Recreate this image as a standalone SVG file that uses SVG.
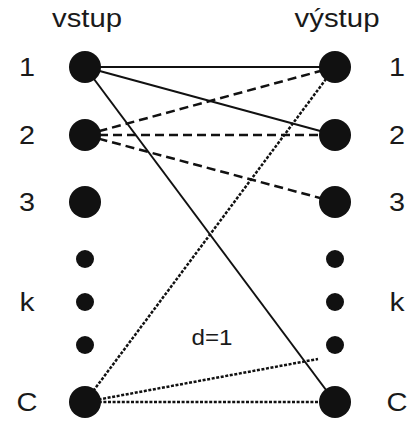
<svg xmlns="http://www.w3.org/2000/svg" width="409" height="421" viewBox="0 0 409 421">
<style>
text{font-family:"Liberation Sans",Arial,sans-serif;fill:#1a1a1a}
.lbl{font-size:25px;text-anchor:middle}
.big{fill:#111}
.solid{stroke:#111;stroke-width:2;fill:none}
.dash{stroke:#111;stroke-width:2.5;fill:none;stroke-dasharray:9 5}
.dot{stroke:#111;stroke-width:2.5;fill:none;stroke-dasharray:3 1.6}
</style>
<rect width="409" height="421" fill="#fff"/>
<g id="headers">
<text x="87" y="27" class="lbl" textLength="70" lengthAdjust="spacingAndGlyphs">vstup</text>
<text x="337" y="27" class="lbl" textLength="85" lengthAdjust="spacingAndGlyphs">výstup</text>
</g>
<g id="connectors">
<line class="solid" x1="85" y1="67" x2="335" y2="67"/>
<line class="solid" x1="85" y1="67" x2="335" y2="135"/>
<line class="solid" x1="85" y1="67" x2="335" y2="402"/>
<line class="dash" x1="85" y1="135" x2="335" y2="67"/>
<line class="dash" x1="85" y1="135" x2="335" y2="135"/>
<line class="dash" x1="85" y1="135" x2="335" y2="202"/>
<line class="dot" x1="85" y1="402" x2="335" y2="67"/>
<line class="dot" x1="85" y1="402" x2="318" y2="359"/>
<line class="dot" x1="85" y1="402" x2="335" y2="402"/>
</g>
<g id="in1"><circle class="big" cx="85" cy="67" r="16"/><text x="27" y="76" class="lbl" textLength="16" lengthAdjust="spacingAndGlyphs">1</text></g>
<g id="in2"><circle class="big" cx="85" cy="135" r="16"/><text x="27" y="144" class="lbl" textLength="16" lengthAdjust="spacingAndGlyphs">2</text></g>
<g id="in3"><circle class="big" cx="85" cy="202" r="16"/><text x="27" y="211" class="lbl" textLength="16" lengthAdjust="spacingAndGlyphs">3</text></g>
<g id="in-dot1"><circle class="big" cx="85" cy="259" r="9"/></g>
<g id="ink"><circle class="big" cx="85" cy="302" r="9"/><text x="27" y="311" class="lbl" textLength="15" lengthAdjust="spacingAndGlyphs">k</text></g>
<g id="in-dot2"><circle class="big" cx="85" cy="345" r="9"/></g>
<g id="inC"><circle class="big" cx="85" cy="402" r="16"/><text x="27" y="411" class="lbl" textLength="21" lengthAdjust="spacingAndGlyphs">C</text></g>
<g id="out1"><circle class="big" cx="335" cy="67" r="16"/><text x="397" y="76" class="lbl" textLength="16" lengthAdjust="spacingAndGlyphs">1</text></g>
<g id="out2"><circle class="big" cx="335" cy="135" r="16"/><text x="397" y="144" class="lbl" textLength="16" lengthAdjust="spacingAndGlyphs">2</text></g>
<g id="out3"><circle class="big" cx="335" cy="202" r="16"/><text x="397" y="211" class="lbl" textLength="16" lengthAdjust="spacingAndGlyphs">3</text></g>
<g id="out-dot1"><circle class="big" cx="335" cy="259" r="9"/></g>
<g id="outk"><circle class="big" cx="335" cy="302" r="9"/><text x="397" y="311" class="lbl" textLength="15" lengthAdjust="spacingAndGlyphs">k</text></g>
<g id="out-dot2"><circle class="big" cx="335" cy="345" r="9"/></g>
<g id="outC"><circle class="big" cx="335" cy="402" r="16"/><text x="397" y="411" class="lbl" textLength="21" lengthAdjust="spacingAndGlyphs">C</text></g>
<text x="212" y="345" style="font-size:22px;text-anchor:middle" textLength="41" lengthAdjust="spacingAndGlyphs">d=1</text>
</svg>
